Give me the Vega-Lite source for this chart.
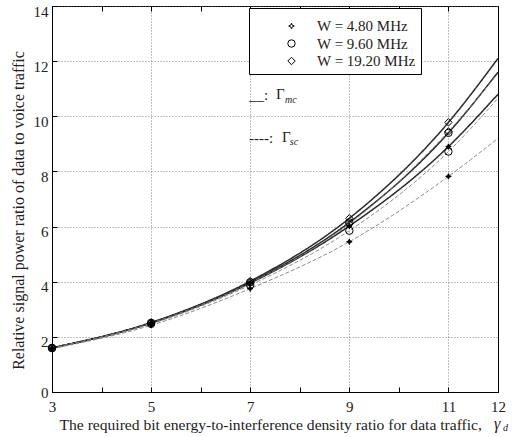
{
  "$schema": "https://vega.github.io/schema/vega-lite/v6.json",
  "width": 446,
  "height": 386,
  "autosize": "none",
  "padding": {"left": 52, "top": 6, "right": 18, "bottom": 45},
  "background": "white",
  "config": {
    "font": "Liberation Serif",
    "view": {"stroke": "#000", "strokeWidth": 1},
    "axis": {
      "labelFont": "Liberation Serif", "titleFont": "Liberation Serif",
      "labelFontSize": 15, "titleFontSize": 15.6, "labelColor": "#222", "titleColor": "#222",
      "titleFontWeight": "normal", "domainColor": "#000", "tickColor": "#000",
      "gridColor": "#666", "gridDash": [1, 2], "gridWidth": 0.8
    },
    "legend": {
      "orient": "none", "legendX": 197, "legendY": 2,
      "strokeColor": "#000", "fillColor": "white", "padding": 5,
      "titleFontSize": 2, "titlePadding": 3,
      "labelFont": "Liberation Serif", "labelFontSize": 15, "labelColor": "#222",
      "symbolOffset": 30, "labelOffset": 18, "rowPadding": 1.5, "clipHeight": 16, "cornerRadius": 0,
      "symbolStrokeColor": "#000", "symbolStrokeWidth": 1
    }
  },
  "datasets": {
    "curves": [
      {"x": 3, "y": 1.6, "W": "W = 19.20 MHz", "type": "mc", "series": "mc19"},
      {"x": 5, "y": 2.52, "W": "W = 19.20 MHz", "type": "mc", "series": "mc19"},
      {"x": 7, "y": 4.02, "W": "W = 19.20 MHz", "type": "mc", "series": "mc19"},
      {"x": 9, "y": 6.3, "W": "W = 19.20 MHz", "type": "mc", "series": "mc19"},
      {"x": 11, "y": 9.78, "W": "W = 19.20 MHz", "type": "mc", "series": "mc19"},
      {"x": 12, "y": 12.1, "W": "W = 19.20 MHz", "type": "mc", "series": "mc19"},
      {"x": 3, "y": 1.6, "W": "W = 9.60 MHz", "type": "mc", "series": "mc96"},
      {"x": 5, "y": 2.51, "W": "W = 9.60 MHz", "type": "mc", "series": "mc96"},
      {"x": 7, "y": 3.98, "W": "W = 9.60 MHz", "type": "mc", "series": "mc96"},
      {"x": 9, "y": 6.15, "W": "W = 9.60 MHz", "type": "mc", "series": "mc96"},
      {"x": 11, "y": 9.4, "W": "W = 9.60 MHz", "type": "mc", "series": "mc96"},
      {"x": 12, "y": 11.6, "W": "W = 9.60 MHz", "type": "mc", "series": "mc96"},
      {"x": 3, "y": 1.6, "W": "W = 4.80 MHz", "type": "mc", "series": "mc48"},
      {"x": 5, "y": 2.5, "W": "W = 4.80 MHz", "type": "mc", "series": "mc48"},
      {"x": 7, "y": 3.95, "W": "W = 4.80 MHz", "type": "mc", "series": "mc48"},
      {"x": 9, "y": 6.02, "W": "W = 4.80 MHz", "type": "mc", "series": "mc48"},
      {"x": 11, "y": 8.9, "W": "W = 4.80 MHz", "type": "mc", "series": "mc48"},
      {"x": 12, "y": 10.8, "W": "W = 4.80 MHz", "type": "mc", "series": "mc48"},
      {"x": 3, "y": 1.6, "W": "W = 19.20 MHz", "type": "sc", "series": "sc19"},
      {"x": 5, "y": 2.5, "W": "W = 19.20 MHz", "type": "sc", "series": "sc19"},
      {"x": 7, "y": 3.96, "W": "W = 19.20 MHz", "type": "sc", "series": "sc19"},
      {"x": 9, "y": 6.1, "W": "W = 19.20 MHz", "type": "sc", "series": "sc19"},
      {"x": 11, "y": 9.45, "W": "W = 19.20 MHz", "type": "sc", "series": "sc19"},
      {"x": 12, "y": 11.55, "W": "W = 19.20 MHz", "type": "sc", "series": "sc19"},
      {"x": 3, "y": 1.59, "W": "W = 9.60 MHz", "type": "sc", "series": "sc96"},
      {"x": 5, "y": 2.47, "W": "W = 9.60 MHz", "type": "sc", "series": "sc96"},
      {"x": 7, "y": 3.88, "W": "W = 9.60 MHz", "type": "sc", "series": "sc96"},
      {"x": 9, "y": 5.85, "W": "W = 9.60 MHz", "type": "sc", "series": "sc96"},
      {"x": 11, "y": 8.72, "W": "W = 9.60 MHz", "type": "sc", "series": "sc96"},
      {"x": 12, "y": 10.65, "W": "W = 9.60 MHz", "type": "sc", "series": "sc96"},
      {"x": 3, "y": 1.57, "W": "W = 4.80 MHz", "type": "sc", "series": "sc48"},
      {"x": 5, "y": 2.42, "W": "W = 4.80 MHz", "type": "sc", "series": "sc48"},
      {"x": 7, "y": 3.75, "W": "W = 4.80 MHz", "type": "sc", "series": "sc48"},
      {"x": 9, "y": 5.45, "W": "W = 4.80 MHz", "type": "sc", "series": "sc48"},
      {"x": 11, "y": 7.82, "W": "W = 4.80 MHz", "type": "sc", "series": "sc48"},
      {"x": 12, "y": 9.2, "W": "W = 4.80 MHz", "type": "sc", "series": "sc48"}
    ],
    "notes": [
      {"x": 6.975, "y": 10.77, "text": "__:", "kind": "main"},
      {"x": 7.52, "y": 10.8, "text": "Γ", "kind": "main"},
      {"x": 7.7, "y": 10.6, "text": "mc", "kind": "sub"},
      {"x": 6.975, "y": 9.2, "text": "----:", "kind": "main"},
      {"x": 7.64, "y": 9.25, "text": "Γ", "kind": "main"},
      {"x": 7.8, "y": 9.07, "text": "sc", "kind": "sub"},
      {"x": 11.92, "y": -1.17, "text": "γ", "kind": "axis"},
      {"x": 12.1, "y": -1.32, "text": "d", "kind": "axissub"}
    ]
  },
  "resolve": {"axis": {"x": "independent", "y": "independent"}},
  "layer": [
    {
      "data": {"name": "curves"},
      "mark": {"type": "line", "interpolate": "monotone"},
      "encoding": {
        "x": {
          "field": "x", "type": "quantitative",
          "scale": {"domain": [3, 12], "nice": false, "zero": false},
          "axis": {
            "title": "The required bit energy-to-interference density ratio for data traffic,",
            "titleAlign": "left", "titleAnchor": "start", "titleX": 7, "titleY": 32, "titleBaseline": "middle",
            "values": [3, 4, 5, 6, 7, 8, 9, 10, 11, 12],
            "labelExpr": "(datum.value % 2 == 1 || datum.value == 12) ? datum.label : ''",
            "gridOpacity": {"condition": {"test": "datum.value % 2 == 1 && datum.value > 3 && datum.value < 12", "value": 1}, "value": 0},
            "tickSize": -5, "labelPadding": 12, "labelFlush": false
          }
        },
        "y": {
          "field": "y", "type": "quantitative",
          "scale": {"domain": [0, 14], "nice": false},
          "axis": {
            "title": "Relative signal power ratio of data to voice traffic",
            "titleFontSize": 16, "titleX": -34, "titleY": 204, "titleBaseline": "middle", "titleAngle": -90,
            "values": [0, 2, 4, 6, 8, 10, 12, 14],
            "labelOffset": {"condition": {"test": "datum.value == 0", "value": 0}, "value": 5},
            "tickSize": -5, "labelPadding": 9
          }
        },
        "detail": {"field": "series"},
        "color": {"field": "type", "type": "nominal", "scale": {"domain": ["mc", "sc"], "range": ["#2a2a2a", "#808080"]}, "legend": null},
        "strokeDash": {"field": "type", "type": "nominal", "scale": {"domain": ["mc", "sc"], "range": [[1, 0], [4, 2]]}, "legend": null},
        "strokeWidth": {"field": "type", "type": "nominal", "scale": {"domain": ["mc", "sc"], "range": [1.5, 0.9]}, "legend": null}
      }
    },
    {
      "data": {"name": "curves"},
      "transform": [{"filter": "datum.x < 12"}],
      "mark": {"type": "point", "filled": false, "color": "#000", "strokeWidth": 1, "opacity": 1},
      "encoding": {
        "x": {"field": "x", "type": "quantitative", "axis": {"orient": "top", "labels": false, "grid": false, "domain": false, "title": null, "values": [3, 4, 5, 6, 7, 8, 9, 10, 11, 12], "tickSize": -5}},
        "y": {"field": "y", "type": "quantitative", "axis": null},
        "shape": {
          "field": "W", "type": "nominal", "title": " ",
          "scale": {"domain": ["W = 4.80 MHz", "W = 9.60 MHz", "W = 19.20 MHz"], "range": ["M0,-0.75L0.22,-0.22L0.75,0L0.22,0.22L0,0.75L-0.22,0.22L-0.75,0L-0.22,-0.22Z", "circle", "diamond"]},
          "legend": {"symbolStrokeColor": "#000", "symbolSize": 55, "encode": {"symbols": {"update": {"fill": {"signal": "datum.value == 'W = 4.80 MHz' ? '#000' : 'transparent'"}, "stroke": {"value": "#000"}}}}}
        },
        "size": {"value": 55}
      }
    },
    {
      "data": {"name": "curves"},
      "transform": [{"filter": "datum.x < 12 && datum.W == 'W = 4.80 MHz'"}],
      "mark": {"type": "point", "filled": true, "color": "#000", "opacity": 1, "shape": "M0,-0.75L0.22,-0.22L0.75,0L0.22,0.22L0,0.75L-0.22,0.22L-0.75,0L-0.22,-0.22Z", "size": 55},
      "encoding": {
        "x": {"field": "x", "type": "quantitative", "axis": null},
        "y": {"field": "y", "type": "quantitative", "axis": null}
      }
    },
    {
      "data": {"name": "notes"},
      "transform": [{"filter": "datum.kind == 'main'"}],
      "mark": {"type": "text", "align": "left", "baseline": "middle", "fontSize": 15, "font": "Liberation Serif", "color": "#222"},
      "encoding": {
        "x": {"field": "x", "type": "quantitative", "axis": null},
        "y": {"field": "y", "type": "quantitative", "axis": null},
        "text": {"field": "text"}
      }
    },
    {
      "data": {"name": "notes"},
      "transform": [{"filter": "datum.kind == 'sub'"}],
      "mark": {"type": "text", "align": "left", "baseline": "middle", "fontSize": 10, "fontStyle": "italic", "font": "Liberation Serif", "color": "#222"},
      "encoding": {
        "x": {"field": "x", "type": "quantitative", "axis": null},
        "y": {"field": "y", "type": "quantitative", "axis": null},
        "text": {"field": "text"}
      }
    },
    {
      "data": {"name": "notes"},
      "transform": [{"filter": "datum.kind == 'axis'"}],
      "mark": {"type": "text", "align": "left", "baseline": "middle", "fontSize": 16, "fontStyle": "italic", "font": "Liberation Serif", "color": "#222"},
      "encoding": {
        "x": {"field": "x", "type": "quantitative", "axis": null},
        "y": {"field": "y", "type": "quantitative", "axis": null},
        "text": {"field": "text"}
      }
    },
    {
      "data": {"name": "notes"},
      "transform": [{"filter": "datum.kind == 'axissub'"}],
      "mark": {"type": "text", "align": "left", "baseline": "middle", "fontSize": 10, "fontStyle": "italic", "font": "Liberation Serif", "color": "#222"},
      "encoding": {
        "x": {"field": "x", "type": "quantitative", "axis": null},
        "y": {"field": "y", "type": "quantitative", "axis": null},
        "text": {"field": "text"}
      }
    }
  ]
}
